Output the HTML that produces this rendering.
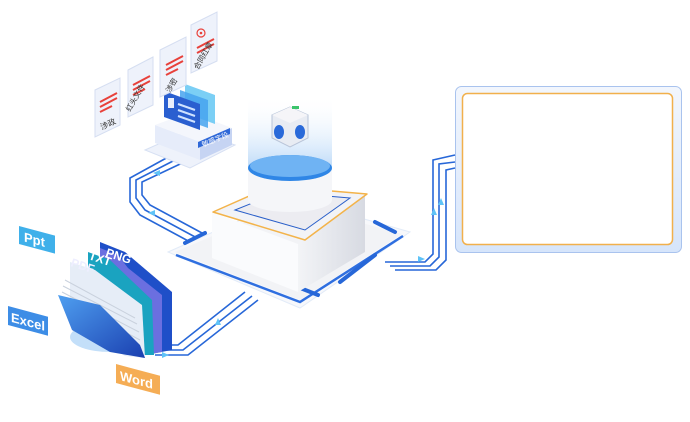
<!DOCTYPE html>
<html><head><meta charset="utf-8"><style>
html,body{margin:0;padding:0;background:#fff;width:690px;height:422px;overflow:hidden}
svg{display:block}
text{font-family:"Liberation Sans","Noto Sans CJK SC",sans-serif}
</style></head><body>
<svg width="690" height="422" viewBox="0 0 690 422" xmlns="http://www.w3.org/2000/svg">
<defs>
<linearGradient id="folder" x1="0" y1="0" x2="1" y2="1"><stop offset="0" stop-color="#4f9ff0"/><stop offset="1" stop-color="#1a3fb0"/></linearGradient>
<linearGradient id="holo" x1="0" y1="0" x2="0" y2="1"><stop offset="0" stop-color="#ffffff" stop-opacity="0"/><stop offset="1" stop-color="#9cc8f5" stop-opacity="0.7"/></linearGradient>
<linearGradient id="boxR" x1="0" y1="0" x2="1" y2="0"><stop offset="0" stop-color="#f3f4f7"/><stop offset="1" stop-color="#d7dae2"/></linearGradient>
<linearGradient id="panel" x1="0" y1="0" x2="0" y2="1"><stop offset="0" stop-color="#f2f6fd"/><stop offset="1" stop-color="#d6e5fb"/></linearGradient>
</defs>

<!-- right panel -->
<rect x="455.5" y="86.5" width="226" height="166" rx="6" fill="url(#panel)" stroke="#a9c3ee"/>
<rect x="462.5" y="93.5" width="210" height="151" rx="5" fill="#fff" stroke="#f1b04c" stroke-width="1.5"/>

<!-- connectors -->
<g fill="none" stroke="#2767d8" stroke-width="1.6">
<path d="M385 262 L425 262 L433 254 L433 160 L455 155"/>
<path d="M390 266 L430 266 L439 257 L439 164 L455 162"/>
<path d="M395 270 L436 270 L446 260 L446 170 L455 168"/>
<path d="M215 240 L150 205 L142 195 L142 182 L178 165 L200 155"/>
<path d="M210 245 L145 210 L136 198 L136 180 L175 160 L195 150"/>
<path d="M205 250 L140 215 L130 202 L130 178 L170 156 L190 146"/>
<path d="M155 345 L178 345 L245 292"/>
<path d="M155 350 L183 350 L252 296"/>
<path d="M155 355 L188 355 L258 300"/>
</g>
<g fill="#5fc3f7">
<polygon points="438,205 441,198 444,205"/><polygon points="431,215 434,208 437,215"/>
<polygon points="418,262 425,259 418,256"/><polygon points="160,170 153,173 160,176"/>
<polygon points="155,216 148,213 155,210"/><polygon points="215,325 218,318 221,325"/>
<polygon points="162,358 169,355 162,352"/>
</g>

<!-- base plate -->
<polygon points="168,252 290,198 410,232 300,308" fill="#f7f8fb" stroke="#e2ebf8"/>
<polygon points="175,252 290,203 402,234 300,300" fill="#f2f3f6"/>
<path d="M176 255 L300 302 L403 236" fill="none" stroke="#2f6fe0" stroke-width="2.5"/>
<path d="M185 243 L205 233" stroke="#2767d8" stroke-width="4" stroke-linecap="round"/>
<path d="M375 222 L395 232" stroke="#2767d8" stroke-width="4" stroke-linecap="round"/>
<path d="M285 282 L318 295" stroke="#2767d8" stroke-width="4" stroke-linecap="round"/>
<path d="M375 255 L340 282" stroke="#2767d8" stroke-width="4" stroke-linecap="round"/>

<!-- box -->
<polygon points="212,212 212,258 298,292 298,244" fill="#fafbfd"/>
<polygon points="298,244 298,292 365,252 365,196" fill="url(#boxR)"/>
<polygon points="213,212 272,186 367,194 305,240" fill="#f2f3f7" stroke="#f3b34a" stroke-width="1.5" stroke-linejoin="round"/>
<polygon points="235,210 280,192 350,198 305,230" fill="#ececf1" stroke="#2a5fc9" stroke-width="1"/>

<!-- cylinder + hologram -->
<rect x="248" y="95" width="84" height="75" fill="url(#holo)"/>
<path d="M248 168 L248 200 A42 12 0 0 0 332 200 L332 168 Z" fill="#f5f6f9"/>
<ellipse cx="290" cy="168" rx="42" ry="13" fill="#2f86e6"/>
<ellipse cx="290" cy="166" rx="40" ry="11" fill="#6fb3f3"/>
<polygon points="272,115 290,107 308,115 308,138 290,147 272,138" fill="#e8ecf3" stroke="#b8c4d8"/>
<polygon points="272,115 290,107 308,115 290,123" fill="#f5f5f8"/>
<ellipse cx="279" cy="132" rx="5" ry="7" fill="#2a6ad9"/>
<ellipse cx="300" cy="132" rx="5" ry="7" fill="#2a6ad9"/>
<rect x="292" y="106" width="7" height="3" fill="#3bc46b"/>

<!-- sensitive-field platform -->
<polygon points="145,150 190,130 235,145 190,168" fill="#eef2fb" stroke="#d7e0f3"/>
<polygon points="155,125 155,143 200,160 200,142" fill="#e6ecfa"/>
<polygon points="200,142 200,160 232,145 232,128" fill="#c6d4f3"/>
<polygon points="155,125 190,112 232,128 200,142" fill="#f4f6fc"/>
<polygon points="198,148 230,134 230,128 198,142" fill="#2f68d8"/>
<text x="203" y="147" font-size="7" fill="#fff" transform="rotate(-22 203 147)">敏感字段</text>
<polygon points="185,84 215,95 215,124 185,113" fill="#5ac3f3" opacity="0.8"/>
<polygon points="180,90 208,100 208,128 180,118" fill="#47a3ee" opacity="0.85"/>
<polygon points="164,91 200,104 200,130 164,117" fill="#2a5fd0"/>
<rect x="168" y="98" width="6" height="10" fill="#fff" opacity="0.9"/>
<path d="M178 104 L195 110 M178 110 L195 116 M178 116 L195 122" stroke="#cfe2ff" stroke-width="2"/>

<!-- documents -->
<g>
<polygon points="95,90 120,78 120,125 95,137" fill="#eef2fb" stroke="#d5def1"/>
<path d="M100 102 L117 93 M100 107 L117 98 M100 112 L112 106" stroke="#e8413b" stroke-width="2"/>
<text x="102" y="130" font-size="8" fill="#333" transform="rotate(-25 102 130)">涉政</text>
<polygon points="128,70 153,57 153,105 128,117" fill="#eef2fb" stroke="#d5def1"/>
<path d="M133 85 L150 76 M133 90 L150 81 M133 95 L145 89" stroke="#e8413b" stroke-width="2"/>
<text x="130" y="112" font-size="7.5" fill="#333" transform="rotate(-60 130 112)">红头文件</text>
<polygon points="160,50 186,37 186,85 160,97" fill="#eef2fb" stroke="#d5def1"/>
<path d="M166 65 L183 56 M166 70 L183 61 M166 75 L178 69" stroke="#e8413b" stroke-width="2"/>
<text x="170" y="93" font-size="7.5" fill="#333" transform="rotate(-60 170 93)">涉密</text>
<polygon points="191,25 217,12 217,61 191,73" fill="#eef2fb" stroke="#d5def1"/>
<circle cx="201" cy="33" r="4" fill="none" stroke="#e8413b" stroke-width="1.2"/><circle cx="201" cy="33" r="1.3" fill="#e8413b"/>
<path d="M197 48 L214 39 M197 53 L214 44" stroke="#e8413b" stroke-width="2"/>
<text x="198" y="70" font-size="7.5" fill="#333" transform="rotate(-60 198 70)">合同红章</text>
</g>

<!-- folder -->
<ellipse cx="110" cy="337" rx="40" ry="15" fill="#a9d2f7" opacity="0.7"/>
<polygon points="100,242 125,252 172,292 172,350 145,355 100,320" fill="#1f4fc8"/>
<polygon points="100,248 118,255 128,268 162,295 162,352 140,356 100,322" fill="#6b6fe0"/>
<polygon points="88,252 110,260 152,300 154,355 132,355 88,320" fill="#1aa3c0"/>
<polygon points="70,262 95,270 142,305 145,358 125,356 70,322" fill="#e6edf7"/>
<g stroke="#c9d1dd" stroke-width="1" fill="none"><path d="M65 280 L135 318 M63 286 L137 324 M62 292 L139 332 M61 298 L140 340"/></g>
<polygon points="58,295 100,305 140,345 145,358 110,352 72,330" fill="url(#folder)"/>
<text x="105" y="256" font-size="12" font-weight="bold" fill="#fff" transform="rotate(18 105 256)">PNG</text>
<text x="88" y="259" font-size="12" font-weight="bold" fill="#fff" transform="rotate(18 88 259)">TXT</text>
<text x="70" y="266" font-size="12" font-weight="bold" fill="#eef" transform="rotate(18 70 266)">PDF</text>

<!-- file labels -->
<g transform="translate(19,226) skewY(15)"><rect width="36" height="18" fill="#3fb0ea"/><text x="5" y="14" font-size="13" font-weight="bold" fill="#fff">Ppt</text></g>
<g transform="translate(8,306) skewY(15)"><rect width="40" height="19" fill="#3d8de6"/><text x="3" y="15" font-size="13" font-weight="bold" fill="#fff">Excel</text></g>
<g transform="translate(116,364) skewY(15)"><rect width="44" height="19" fill="#f5ad55"/><text x="4" y="15" font-size="13" font-weight="bold" fill="#fff">Word</text></g>
</svg>
</body></html>
